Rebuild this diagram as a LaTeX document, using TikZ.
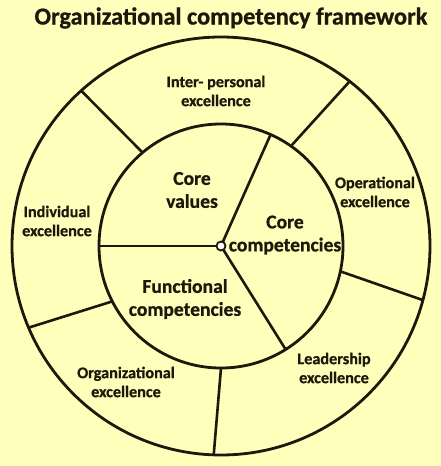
\documentclass[tikz,border=0pt]{standalone}
\usepackage{fontspec}
\setmainfont{Carlito}[BoldFeatures={FakeBold=0.8}]
\definecolor{bg}{RGB}{255,255,188}
\definecolor{ink}{RGB}{28,24,10}
\begin{document}
\begin{tikzpicture}[x=1pt,y=-1pt,
  ring/.style={circle,draw=ink,line width=2.8pt,inner sep=0pt,outer sep=0pt,minimum size=#1},
  spoke/.style={draw=ink,line width=2.6pt},
  small/.style={align=center,text=ink,font=\bfseries\fontsize{16.2}{19}\selectfont},
  big/.style={align=center,text=ink,font=\bfseries\fontsize{19.6}{23}\selectfont}]
\fill[bg] (0,0) rectangle (441,466);
\useasboundingbox (0,0) rectangle (441,466);
\node[text=ink,font=\bfseries\fontsize{24.4}{28}\selectfont] (title) at (231,18) {Organizational competency framework};
\coordinate (C) at (221,246);
\node[ring=418pt] (outer) at (C) {};
\node[ring=244pt] (inner) at (C) {};
% spokes of inner circle
\draw[spoke] (C) -- (inner.180);
\draw[spoke] (C) -- (inner.66.7);
\draw[spoke] (C) -- (inner.-58.4);
\node[circle,draw=ink,line width=1.8pt,fill=white,inner sep=0pt,minimum size=9pt] (hub) at (C) {};
% radial dividers of outer ring
\draw[spoke] (inner.130.6) -- (outer.132.9);
\draw[spoke] (inner.55) -- (outer.52.8);
\draw[spoke] (inner.-12.5) -- (outer.-15.7);
\draw[spoke] (inner.-90.5) -- (outer.-92.2);
\draw[spoke] (inner.207.6) -- (outer.203.7);
% labels
\node[small] (inter) at (216,91) {Inter- personal\\excellence};
\node[small] (oper) at (375,192) {Operational\\excellence};
\node[small] (indiv) at (57,221) {Individual\\excellence};
\node[small] (org) at (126,382) {Organizational\\excellence};
\node[small] (lead) at (334,368) {Leadership\\excellence};
\node[big] (values) at (192,190) {Core\\values};
\node[big] (corecomp) at (285,235) {Core\\competencies};
\node[big] (func) at (185,299) {Functional\\competencies};
\end{tikzpicture}
\end{document}
